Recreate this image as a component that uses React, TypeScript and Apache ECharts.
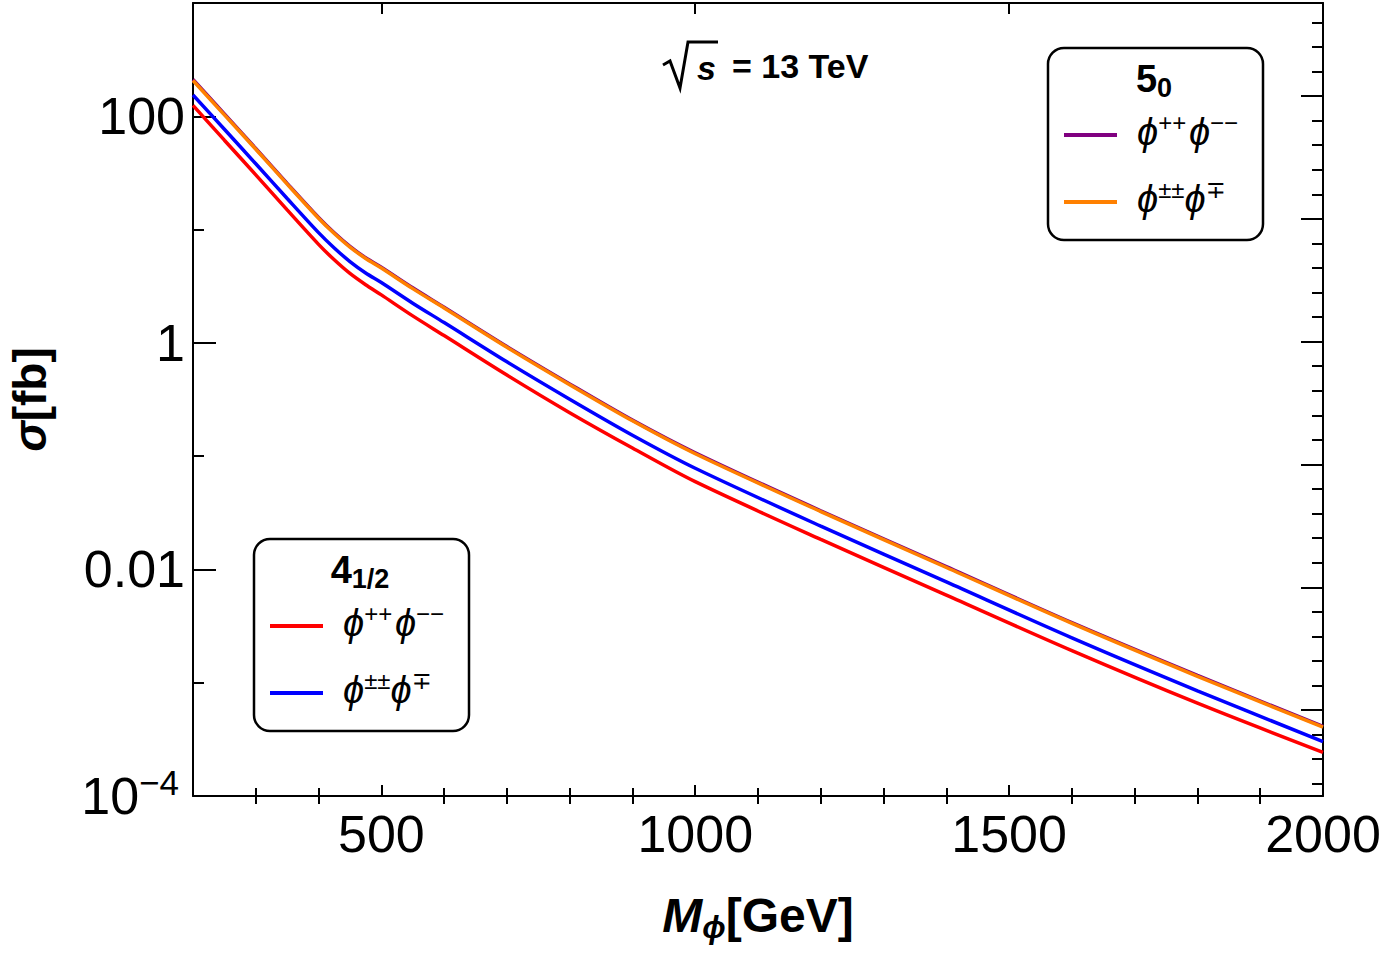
import React, { useEffect, useRef } from 'react';
import * as echarts from 'echarts';

// ---- data ----
const masses = [200, 250, 300, 350, 400, 425, 450, 475, 500, 550, 600, 700, 800, 900, 1000, 1200, 1400, 1600, 1800, 2000];
// 5_0 : phi++ phi--  (purple)
const quintDoubly = [211, 105, 52.0, 25.6, 12.8, 9.37, 7.11, 5.64, 4.65, 3.06, 2.06, 0.927, 0.434, 0.208, 0.107, 0.0329, 0.0106, 0.00339, 0.00116, 0.000411];
// 5_0 : phi±± phi∓  (orange)
const quintAssoc = [207, 103, 51.2, 25.2, 12.6, 9.23, 7.0, 5.56, 4.58, 3.01, 2.03, 0.913, 0.427, 0.205, 0.105, 0.0324, 0.0104, 0.00334, 0.00114, 0.000405];
// 4_1/2 : phi++ phi--  (red)
const quadDoubly = [125, 61.5, 30.4, 14.9, 7.4, 5.41, 4.1, 3.26, 2.65, 1.73, 1.16, 0.52, 0.242, 0.118, 0.0595, 0.0184, 0.00593, 0.00192, 0.00066, 0.000243];
// 4_1/2 : phi±± phi∓  (blue)
const quadAssoc = [154, 76.8, 38.1, 18.8, 9.39, 6.88, 5.22, 4.14, 3.41, 2.24, 1.51, 0.68, 0.318, 0.153, 0.0782, 0.0241, 0.00775, 0.00249, 0.000849, 0.000302];

const xMajorTicks = [500, 1000, 1500, 2000];
const xMinorTicks = [300, 400, 600, 700, 800, 900, 1100, 1200, 1300, 1400, 1600, 1700, 1800, 1900];
const yMajorTicks = [0.0001, 0.01, 1, 100];
const yMinorTicks = [0.001, 0.1, 10];
const rightMajorTicks = [0.7, 1.7, 2.7, 3.7, 4.7, 5.7];
const rightMinorTicks = [0.1, 0.3, 0.5, 0.9, 1.1, 1.3, 1.5, 1.9, 2.1, 2.3, 2.5, 2.9, 3.1, 3.3, 3.5, 3.9, 4.1, 4.3, 4.5, 4.9, 5.1, 5.3, 5.5, 5.9, 6.1, 6.3];

const FONT = '"Liberation Sans", Arial, Helvetica, "DejaVu Sans", sans-serif';

const GRID = { left: 193, top: 3, width: 1130, height: 793 };

function lineSeries(name: string, values: number[], color: string, z: number) {
  return {
    type: 'line',
    name,
    xAxisIndex: 0,
    yAxisIndex: 0,
    data: masses.map((m, i) => [m, values[i]]),
    showSymbol: false,
    symbol: 'none',
    smooth: 0.3,
    lineStyle: { color, width: 3.5 },
    itemStyle: { color },
    z,
    silent: true,
  };
}

const axisLineStyle = { show: true, onZero: false, lineStyle: { color: '#000', width: 2 } };

function tickAxis(extra: any) {
  return {
    splitLine: { show: false },
    axisLabel: { show: false },
    ...extra,
  };
}

function legendBox(x: number, y: number, title: string, titleRich: any, c1: string, c2: string, t1: string, t2: string) {
  const entryRich = {
    p: { fontFamily: FONT, fontSize: 38, fontStyle: 'italic', lineHeight: 44, fill: '#000' },
    s: { fontFamily: FONT, fontSize: 24, lineHeight: 20, verticalAlign: 'top', fill: '#000' },
    g: { fontFamily: FONT, fontSize: 10, lineHeight: 44, fill: '#000' },
  };
  return {
    type: 'group',
    children: [
      {
        type: 'rect',
        shape: { x, y, width: 215, height: 192, r: 16 },
        style: { fill: '#fff', stroke: '#000', lineWidth: 2.5 },
        z: 20,
      },
      {
        type: 'text',
        x: x + 106,
        y: y + 31,
        z: 21,
        style: {
          text: title,
          rich: titleRich,
          align: 'center',
          textAlign: 'center',
          verticalAlign: 'middle',
          textVerticalAlign: 'middle',
          fill: '#000',
        },
      },
      {
        type: 'line',
        shape: { x1: x + 16, y1: y + 87, x2: x + 69, y2: y + 87 },
        style: { stroke: c1, lineWidth: 4 },
        z: 21,
      },
      {
        type: 'line',
        shape: { x1: x + 16, y1: y + 154, x2: x + 69, y2: y + 154 },
        style: { stroke: c2, lineWidth: 4 },
        z: 21,
      },
      {
        type: 'text',
        x: x + 89,
        y: y + 84,
        z: 21,
        style: { text: t1, rich: entryRich, align: 'left', textAlign: 'left', verticalAlign: 'middle', textVerticalAlign: 'middle', fill: '#000' },
      },
      {
        type: 'text',
        x: x + 89,
        y: y + 151,
        z: 21,
        style: { text: t2, rich: entryRich, align: 'left', textAlign: 'left', verticalAlign: 'middle', textVerticalAlign: 'middle', fill: '#000' },
      },
    ],
  };
}

const titleRichStyle = {
  m: { fontFamily: FONT, fontSize: 38, fontWeight: 'bold', lineHeight: 44, fill: '#000' },
  b: { fontFamily: FONT, fontSize: 27, fontWeight: 'bold', lineHeight: 26, verticalAlign: 'bottom', fill: '#000' },
};

const entryPP = '{p|ϕ}{s|++}{g| }{p|ϕ}{s|−−}';
const entryPM = '{p|ϕ}{s|±±}{p|ϕ}{s|∓}';

function yLabel(v: number) {
  const e = Math.round(Math.log10(v));
  if (e === -4) return '10{sup|−4}';
  if (e === -2) return '0.01';
  if (e === 0) return '1';
  if (e === 2) return '100';
  return '';
}

const option: any = {
  animation: false,
  backgroundColor: '#fff',
  grid: { ...GRID, containLabel: false, outerBoundsMode: 'none' },
  xAxis: [
    {
      type: 'value',
      min: 200,
      max: 2000,
      position: 'bottom',
      axisLine: axisLineStyle,
      axisTick: { show: true, inside: true, length: 11, customValues: xMajorTicks, lineStyle: { color: '#000', width: 2 } },
      axisLabel: {
        show: true,
        customValues: xMajorTicks,
        margin: 12,
        color: '#000',
        fontFamily: FONT,
        fontSize: 52,
        formatter: (v: number) => String(Math.round(v)),
      },
      splitLine: { show: false },
      name: '{i|M}{s|ϕ}{b|[GeV]}',
      nameLocation: 'middle',
      nameGap: 91,
      nameTextStyle: {
        color: '#000',
        rich: {
          i: { fontFamily: FONT, fontSize: 48, fontWeight: 'bold', fontStyle: 'italic', lineHeight: 56, color: '#000' },
          s: { fontFamily: FONT, fontSize: 31, fontWeight: 'bold', fontStyle: 'italic', lineHeight: 28, verticalAlign: 'bottom', color: '#000' },
          b: { fontFamily: FONT, fontSize: 48, fontWeight: 'bold', lineHeight: 56, color: '#000' },
        },
      },
    },
    tickAxis({
      type: 'value', min: 200, max: 2000, position: 'bottom',
      axisLine: { show: false },
      axisTick: { show: true, inside: true, length: 8, customValues: xMinorTicks, lineStyle: { color: '#000', width: 2 } },
    }),
    tickAxis({
      type: 'value', min: 200, max: 2000, position: 'top',
      axisLine: axisLineStyle,
      axisTick: { show: true, inside: true, length: 11, customValues: xMajorTicks, lineStyle: { color: '#000', width: 2 } },
    }),
    tickAxis({
      type: 'value', min: 200, max: 2000, position: 'top',
      axisLine: { show: false },
      axisTick: { show: true, inside: true, length: 8, customValues: xMinorTicks, lineStyle: { color: '#000', width: 2 } },
    }),
  ],
  yAxis: [
    {
      type: 'log',
      logBase: 10,
      min: 0.0001,
      max: 1000,
      position: 'left',
      axisLine: axisLineStyle,
      axisTick: { show: true, inside: true, length: 23, customValues: yMajorTicks, lineStyle: { color: '#000', width: 2 } },
      axisLabel: {
        show: true,
        customValues: yMajorTicks,
        margin: 8,
        color: '#000',
        fontFamily: FONT,
        fontSize: 52,
        lineHeight: 62,
        formatter: yLabel,
        rich: {
          sup: { fontFamily: FONT, fontSize: 35, lineHeight: 26, verticalAlign: 'top', color: '#000', padding: [0, 6, 0, 0] },
        },
      },
      splitLine: { show: false },
      name: '{i|σ}{b|[fb]}',
      nameLocation: 'middle',
      nameGap: 135,
      nameTextStyle: {
        color: '#000',
        rich: {
          i: { fontFamily: FONT, fontSize: 46, fontWeight: 'bold', fontStyle: 'italic', lineHeight: 56, color: '#000' },
          b: { fontFamily: FONT, fontSize: 46, fontWeight: 'bold', lineHeight: 56, color: '#000' },
        },
      },
    },
    tickAxis({
      type: 'log', logBase: 10, min: 0.0001, max: 1000, position: 'left',
      axisLine: { show: false },
      axisTick: { show: true, inside: true, length: 11, customValues: yMinorTicks, lineStyle: { color: '#000', width: 2 } },
    }),
    tickAxis({
      type: 'value', min: 0, max: 6.458, position: 'right',
      axisLine: axisLineStyle,
      axisTick: { show: true, inside: true, length: 22, customValues: rightMajorTicks, lineStyle: { color: '#000', width: 2 } },
    }),
    tickAxis({
      type: 'value', min: 0, max: 6.458, position: 'right',
      axisLine: { show: false },
      axisTick: { show: true, inside: true, length: 11, customValues: rightMinorTicks, lineStyle: { color: '#000', width: 2 } },
    }),
  ],
  series: [
    lineSeries('4₁/₂ ϕ⁺⁺ϕ⁻⁻', quadDoubly, '#ff0000', 3),
    lineSeries('4₁/₂ ϕ±±ϕ∓', quadAssoc, '#0000ff', 4),
    lineSeries('5₀ ϕ⁺⁺ϕ⁻⁻', quintDoubly, '#800080', 5),
    lineSeries('5₀ ϕ±±ϕ∓', quintAssoc, '#ff8000', 6),
  ],
  graphic: [
    {
      type: 'polyline',
      shape: { points: [[663, 65], [670, 61], [680, 88], [688, 42], [718, 42]] },
      style: { stroke: '#000', lineWidth: 3, fill: null },
      z: 10,
    },
    {
      type: 'text',
      x: 697,
      y: 68,
      z: 10,
      style: { text: 's', fontFamily: FONT, fontSize: 34, fontStyle: 'italic', fontWeight: 'bold', fill: '#000', align: 'left', textAlign: 'left', verticalAlign: 'middle', textVerticalAlign: 'middle' },
    },
    {
      type: 'text',
      x: 732,
      y: 66,
      z: 10,
      style: { text: '= 13 TeV', fontFamily: FONT, fontSize: 34, fontWeight: 'bold', fill: '#000', align: 'left', textAlign: 'left', verticalAlign: 'middle', textVerticalAlign: 'middle' },
    },
    legendBox(1048, 48, '{m|5}{b|0}', titleRichStyle, '#800080', '#ff8000', entryPP, entryPM),
    legendBox(254, 539, '{m|4}{b|1/2}', titleRichStyle, '#ff0000', '#0000ff', entryPP, entryPM),
  ],
};

export default function App() {
  const ref = useRef<HTMLDivElement>(null);
  useEffect(() => {
    if (!ref.current) return;
    const chart = echarts.init(ref.current, null, { renderer: 'svg' });
    chart.setOption(option);
    return () => {
      chart.dispose();
    };
  }, []);
  return (
    <div
      ref={ref}
      style={{ position: 'fixed', left: 0, top: 0, width: 1389, height: 959, background: '#fff' }}
    />
  );
}
